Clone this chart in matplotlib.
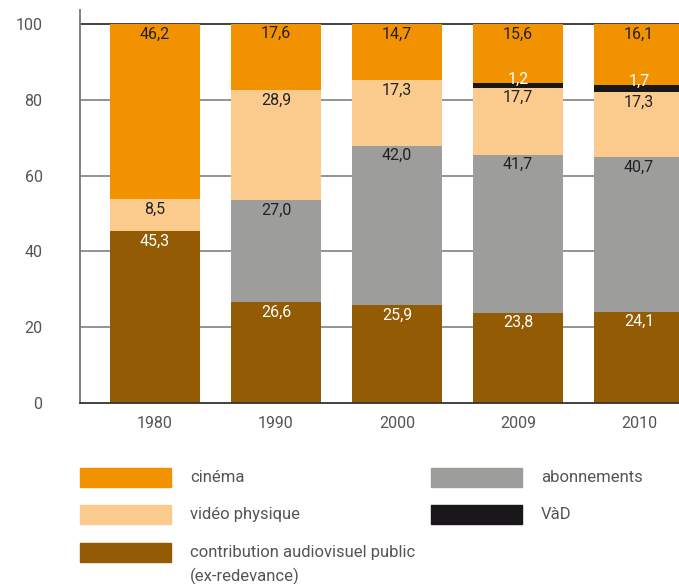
import numpy as np
import matplotlib.pyplot as plt
from matplotlib.patches import Rectangle

plt.rcParams['font.family'] = ['Roboto', 'DejaVu Sans']

annees = ['1980', '1990', '2000', '2009', '2010']
contribution = [45.3, 26.6, 25.9, 23.8, 24.1]
abonnements = [0.0, 27.0, 42.0, 41.7, 40.7]
video = [8.5, 28.9, 17.3, 17.7, 17.3]
vad = [0.0, 0.0, 0.0, 1.2, 1.7]
cinema = [46.2, 17.6, 14.7, 15.6, 16.1]

series = [
    ('contribution audiovisuel public\n(ex-redevance)', contribution, '#945b05', 'white'),
    ('abonnements', abonnements, '#9d9d9c', '#222222'),
    ('vidéo physique', video, '#fbcb8e', '#222222'),
    ('VàD', vad, '#1a171b', 'white'),
    ('cinéma', cinema, '#f39200', '#222222'),
]

W, H = 679, 584
fig = plt.figure(figsize=(W / 100, H / 100), dpi=100)
ax = fig.add_axes([80 / W, 1 - 403 / H, 1 - 80 / W, (403 - 10) / H])

x = np.arange(len(annees))
bottom = np.zeros(len(annees))
for nom, vals, col, tcol in series:
    vals = np.array(vals)
    ax.bar(x, vals, width=0.744, bottom=bottom, color=col, zorder=2)
    for xi, b, v in zip(x, bottom, vals):
        if v <= 0:
            continue
        top = b + v
        dy = 4 if nom == 'VàD' else -10
        ax.annotate(f'{v:.1f}'.replace('.', ','), (xi, top), xytext=(0, dy * 0.72),
                    textcoords='offset points', ha='center', va='center',
                    fontsize=11.5, color=tcol, zorder=3)
    bottom += vals

ax.set_xlim(-0.62, 4.33)
ax.set_ylim(0, 100 * 393 / 379)
ax.set_yticks([0, 20, 40, 60, 80, 100])
ax.set_xticks(x)
ax.set_xticklabels(annees)
ax.tick_params(axis='both', length=0, labelsize=11.5, labelcolor='#555555')
ax.tick_params(axis='y', pad=27)
ax.tick_params(axis='x', pad=9)
for yv in [20, 40, 60, 80]:
    ax.axhline(yv, color='#8a8a8a', lw=1.3, zorder=1)
ax.axhline(100, color='#333333', lw=1.3, zorder=1)
for s in ['top', 'right']:
    ax.spines[s].set_visible(False)
ax.spines['left'].set_color('#777777')
ax.spines['left'].set_linewidth(1.3)
ax.spines['bottom'].set_color('#333333')
ax.spines['bottom'].set_linewidth(1.3)

# légende
leg = [
    ('cinéma', '#f39200', 80, 468),
    ('vidéo physique', '#fbcb8e', 80, 505),
    ('contribution audiovisuel public\n(ex-redevance)', '#945b05', 80, 543),
    ('abonnements', '#9d9d9c', 431, 468),
    ('VàD', '#1a171b', 431, 505),
]
for lab, col, px, py in leg:
    fig.add_artist(Rectangle((px / W, 1 - (py + 19) / H), 91 / W, 19 / H,
                             transform=fig.transFigure, color=col))
    fig.text((px + 110) / W, 1 - (py + 9.5) / H, lab.split('\n')[0], fontsize=12,
             color='#555555', va='center', ha='left')
    if '\n' in lab:
        fig.text((px + 110) / W, 1 - (py + 33) / H, lab.split('\n')[1], fontsize=12,
                 color='#555555', va='center', ha='left')

plt.savefig('out.png', dpi=100)
